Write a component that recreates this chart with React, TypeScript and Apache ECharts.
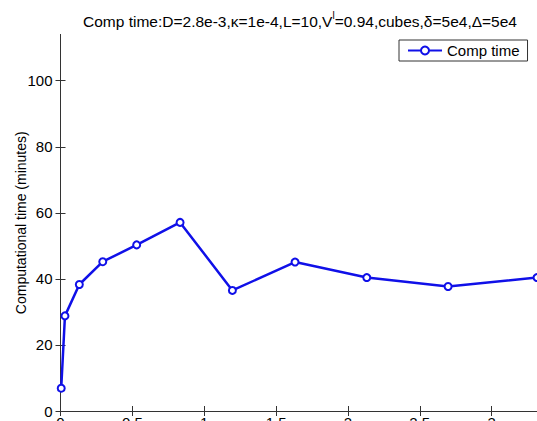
import React, { useEffect, useRef } from "react";
import * as echarts from "echarts";

const xValues = [0.005, 0.031, 0.131, 0.294, 0.53, 0.832, 1.196, 1.632, 2.131, 2.697, 3.316];
const yValues = [6.9, 28.8, 38.3, 45.2, 50.3, 57.1, 36.5, 45.1, 40.4, 37.7, 40.4];
const xTicks = [0, 0.5, 1, 1.5, 2, 2.5, 3, 3.5];
const yTicks = [0, 20, 40, 60, 80, 100];
const seriesName = "Comp time";
const yAxisName = "Computational time (minutes)";

export default function App() {
  const ref = useRef<HTMLDivElement>(null);
  useEffect(() => {
    if (!ref.current) return;
    const chart = echarts.init(ref.current, undefined, { renderer: "svg" });
    const font = "'Liberation Sans', Arial, sans-serif";
    const axisColor = "#333";
    const blue = "#1010e8";
    chart.setOption({
      animation: false,
      backgroundColor: "#fff",
      title: {
        left: "center",
        top: 5,
        text: "{a|Comp time:D=2.8e-3,κ=1e-4,L=10,V}{s|l}{a|=0.94,cubes,δ=5e4,Δ=5e4}",
        textStyle: {
          fontWeight: "normal",
          rich: {
            a: { fontFamily: font, fontSize: 15.5, fontWeight: "normal", color: "#000", verticalAlign: "bottom", lineHeight: 19 },
            s: { fontFamily: font, fontSize: 10, fontWeight: "normal", color: "#000", verticalAlign: "top", lineHeight: 19, padding: [0, 0, 8, 0] },
          },
        },
      },
      legend: {
        left: 399,
        top: 40,
        data: [seriesName],
        backgroundColor: "#fff",
        borderColor: "#333",
        borderWidth: 1,
        borderRadius: 0,
        padding: [3, 8, 3, 8],
        itemWidth: 34,
        itemHeight: 10,
        itemGap: 6,
        textStyle: { fontFamily: font, fontSize: 15, color: "#000" },
      },
      grid: { left: 60.5, top: 34.5, width: 503, height: 376.5, containLabel: false },
      xAxis: [
        {
          type: "value",
          min: 0,
          max: 3.5,
          interval: 0.5,
          position: "bottom",
          axisLine: { show: true, lineStyle: { color: axisColor, width: 1 } },
          axisTick: { show: true, inside: true, length: 5, lineStyle: { color: axisColor } },
          splitLine: { show: false },
          axisLabel: {
            customValues: xTicks,
            margin: 4,
            fontFamily: font,
            fontSize: 15,
            color: "#000",
            formatter: (v: number) => String(v),
          },
        },
        {
          type: "value",
          min: 0,
          max: 3.5,
          interval: 0.5,
          position: "top",
          axisLine: { show: true, lineStyle: { color: axisColor, width: 1 } },
          axisTick: { show: true, inside: true, length: 5, lineStyle: { color: axisColor } },
          axisLabel: { show: false },
          splitLine: { show: false },
        },
      ],
      yAxis: [
        {
          type: "value",
          min: 0,
          max: 114,
          position: "left",
          name: yAxisName,
          nameLocation: "middle",
          nameGap: 33,
          nameMoveOverlap: false,
          nameTextStyle: { fontFamily: font, fontSize: 14, color: "#000" },
          axisLine: { show: true, lineStyle: { color: axisColor, width: 1 } },
          axisTick: { show: true, inside: true, length: 5, customValues: yTicks, lineStyle: { color: axisColor } },
          splitLine: { show: false },
          axisLabel: {
            customValues: yTicks,
            margin: 8,
            fontFamily: font,
            fontSize: 15,
            color: "#000",
          },
        },
        {
          type: "value",
          min: 0,
          max: 114,
          position: "right",
          axisLine: { show: true, lineStyle: { color: axisColor, width: 1 } },
          axisTick: { show: true, inside: true, length: 5, customValues: yTicks, lineStyle: { color: axisColor } },
          axisLabel: { show: false },
          splitLine: { show: false },
        },
      ],
      series: [
        {
          name: seriesName,
          type: "line",
          xAxisIndex: 0,
          yAxisIndex: 0,
          data: xValues.map((x, i) => [x, yValues[i]]),
          symbol: "emptyCircle",
          symbolSize: 7,
          showAllSymbol: true,
          color: blue,
          lineStyle: { color: blue, width: 2.5 },
          itemStyle: { color: blue, borderColor: blue, borderWidth: 2 },
        },
      ],
    });
    return () => chart.dispose();
  }, []);
  return (
    <div style={{ position: "fixed", left: 0, top: 0, width: 537, height: 421, overflow: "hidden", background: "#fff" }}>
      <div ref={ref} style={{ width: 600, height: 460 }} />
    </div>
  );
}
